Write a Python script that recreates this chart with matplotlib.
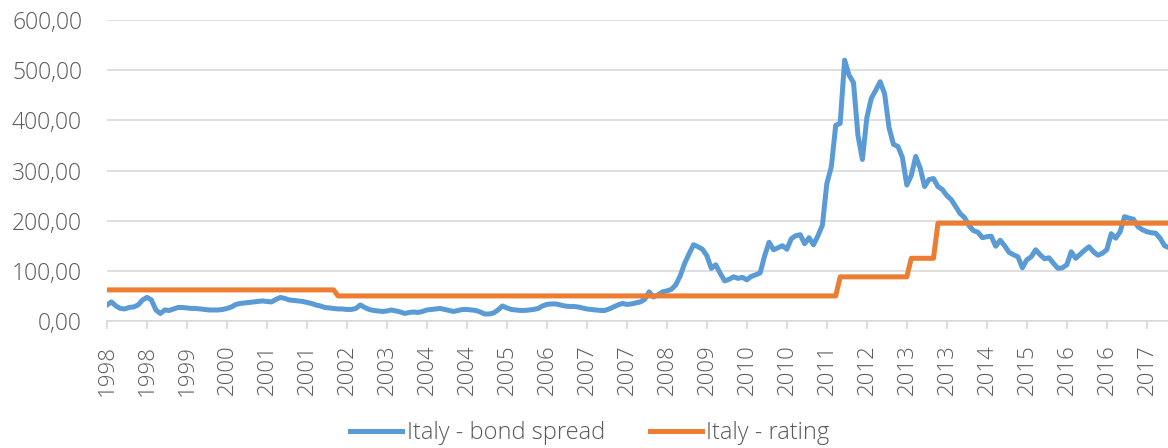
import numpy as np
import matplotlib
matplotlib.use("Agg")
import matplotlib.pyplot as plt

# monthly values, Jan 1998 - Dec 2017
spread = [
    32, 38, 30, 25, 24, 27, 28, 32, 42, 47, 42, 22,        # 1998
    15, 22, 21, 24, 27, 27, 26, 25, 25, 24, 23, 22,        # 1999
    22, 22, 23, 25, 28, 33, 35, 36, 37, 38, 39, 40,        # 2000
    39, 38, 43, 47, 45, 42, 41, 40, 39, 37, 35, 32,        # 2001
    30, 27, 26, 25, 24, 24, 23, 23, 25, 32, 27, 23,        # 2002
    21, 20, 19, 20, 22, 20, 18, 15, 17, 18, 17, 19,        # 2003
    22, 23, 24, 25, 23, 21, 19, 21, 23, 23, 22, 21,        # 2004
    18, 14, 14, 16, 22, 30, 26, 23, 22, 21, 21, 22,        # 2005
    23, 25, 30, 33, 34, 34, 32, 30, 29, 29, 28, 26,        # 2006
    24, 23, 22, 21, 21, 24, 28, 32, 35, 33, 34, 36,        # 2007
    38, 43, 58, 48, 52, 58, 60, 63, 72, 90, 115, 134,      # 2008
    152, 148, 143, 130, 105, 112, 95, 80, 83, 88, 85, 87,  # 2009
    82, 89, 92, 96, 130, 157, 142, 146, 150, 143, 164, 170,    # 2010
    172, 154, 166, 152, 170, 191, 274, 307, 390, 394, 520, 490,  # 2011
    475, 370, 322, 405, 444, 460, 477, 453, 385, 352, 348, 326,  # 2012
    271, 290, 328, 305, 268, 282, 284, 268, 262, 250, 242, 228,  # 2013
    214, 206, 190, 180, 177, 166, 168, 169, 149, 161, 150, 137,  # 2014
    132, 128, 106, 122, 128, 142, 132, 124, 126, 115, 105, 106,  # 2015
    112, 138, 125, 133, 141, 148, 138, 131, 135, 142, 174, 165,  # 2016
    178, 208, 205, 203, 188, 182, 178, 176, 175, 165, 150, 146,  # 2017
]

# rating as a step series
rating = [62] * 52 + [50] * 113 + [88] * 16 + [125] * 6 + [195] * 53

tick_labels = ["1998", "1998", "1999", "2000", "2001", "2001", "2002", "2003",
               "2004", "2004", "2005", "2006", "2007", "2007", "2008",
               "2009", "2010", "2010", "2011", "2012", "2013", "2013", "2014",
               "2015", "2016", "2016", "2017"]

labels = ["Italy - bond spread", "Italy - rating"]

plt.rcParams["font.family"] = ["Open Sans", "DejaVu Sans"]
plt.rcParams["font.weight"] = "light"
txt = "#595959"
grid = "#d9d9d9"

fig = plt.figure(figsize=(11.68, 4.48), dpi=100)
ax = fig.add_axes([107 / 1168, 127 / 448, 1062 / 1168, 301 / 448])

x = np.arange(len(spread))
ax.plot(x, spread, color="#5B9BD5", lw=3.6, label=labels[0], solid_joinstyle="round")
ax.plot(x, rating, color="#ED7D31", lw=3.6, label=labels[1], solid_joinstyle="round")

ax.set_xlim(0, len(spread) - 1)
ax.set_ylim(0, 600)
ax.set_yticks(np.arange(0, 601, 100))
ax.set_yticklabels([f"{v:.2f}".replace(".", ",") for v in np.arange(0, 601, 100)])
ax.set_xticks(np.arange(0, len(spread), 9)[:len(tick_labels)])
ax.set_xticklabels(tick_labels, rotation=90)

ax.grid(axis="y", color=grid, lw=1.2)
ax.set_axisbelow(True)
for s in ["top", "right", "left"]:
    ax.spines[s].set_visible(False)
ax.spines["bottom"].set_color(grid)
ax.spines["bottom"].set_linewidth(1.2)
ax.tick_params(axis="x", colors=txt, labelsize=16, length=6, width=1.2,
               color=grid, pad=11)
ax.tick_params(axis="y", colors=txt, labelsize=16.5, length=0, pad=18)

fig.legend(loc="center", bbox_to_anchor=(0.505, 0.033), ncol=2, frameon=False,
           fontsize=17, labelcolor=txt, handlelength=2.2, handletextpad=0.2,
           columnspacing=1.9)

fig.savefig("out.png", dpi=100)
